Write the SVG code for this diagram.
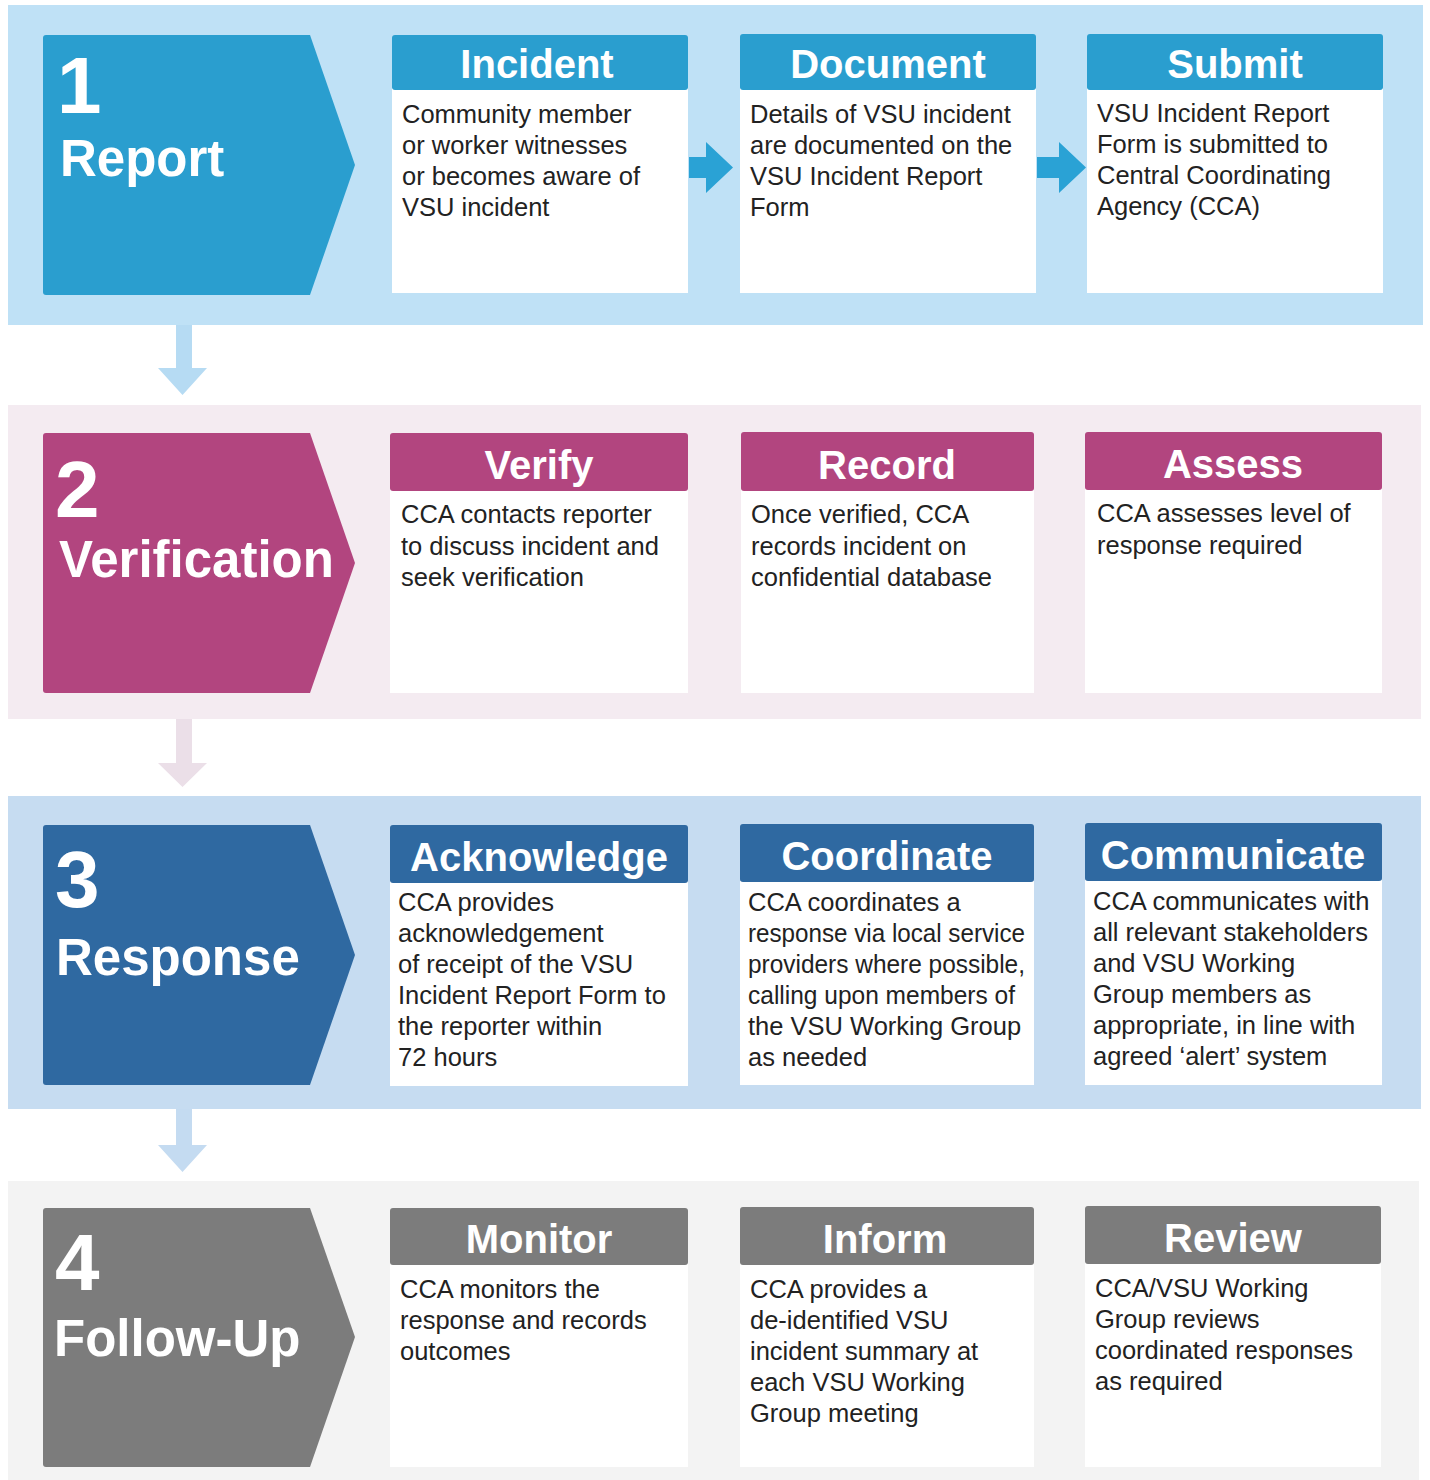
<svg xmlns="http://www.w3.org/2000/svg" width="1430" height="1480" viewBox="0 0 1430 1480">
<style>
.num{font-family:"Liberation Sans",Arial,sans-serif;font-weight:bold;font-size:80px;fill:#fff}
.stage{font-family:"Liberation Sans",Arial,sans-serif;font-weight:bold;font-size:51px;fill:#fff}
.hd{font-family:"Liberation Sans",Arial,sans-serif;font-weight:bold;font-size:40px;fill:#fff;text-anchor:middle}
.bd{font-family:"Liberation Sans",Arial,sans-serif;font-size:25.5px;fill:#222}
.body{fill:#fff}
.c1{fill:#2a9ecf}.c2{fill:#b2457f}.c3{fill:#2f69a1}.c4{fill:#7c7c7c}
</style>
<rect width="1430" height="1480" fill="#fff"/>
<!-- bands -->
<rect x="8" y="5" width="1415" height="320" fill="#bfe1f6"/>
<rect x="8" y="405" width="1413" height="314" fill="#f4ebf1"/>
<rect x="8" y="796" width="1413" height="313" fill="#c6dcf1"/>
<rect x="8" y="1181" width="1411" height="299" fill="#f3f3f3"/>

<g id="connectors">
  <path d="M176,325 H192 V368 H207 L182.5,395 L158,368 H176 Z" fill="#b6dbf3"/>
  <path d="M176,719 H192 V763 H207 L182.5,787 L158,763 H176 Z" fill="#ebdfe8"/>
  <path d="M176,1109 H192 V1145 H207 L182.5,1172 L158,1145 H176 Z" fill="#c4dbf1"/>
  <path d="M689,157 H706 V142 L733,167.5 L706,193 V178 H689 Z" fill="#2aa2d5"/>
  <path d="M1037,157 H1059 V142 L1086,167.5 L1059,193 V178 H1037 Z" fill="#2aa2d5"/>
</g>

<!-- Stage chevrons -->
<g id="stage1">
  <path class="c1" d="M46,35 H310 L355,165 L310,295 H46 Q43,295 43,292 V38 Q43,35 46,35 Z"/>
  <text class="num" x="57" y="113">1</text>
  <text class="stage" x="60" y="176">Report</text>
</g>
<g id="stage2">
  <path class="c2" d="M46,433 H310 L355,563 L310,693 H46 Q43,693 43,690 V436 Q43,433 46,433 Z"/>
  <text class="num" x="55" y="517">2</text>
  <text class="stage" x="59" y="577">Verification</text>
</g>
<g id="stage3">
  <path class="c3" d="M46,825 H310 L355,955 L310,1085 H46 Q43,1085 43,1082 V828 Q43,825 46,825 Z"/>
  <text class="num" x="55" y="907">3</text>
  <text class="stage" x="56" y="975">Response</text>
</g>
<g id="stage4">
  <path class="c4" d="M46,1208 H310 L355,1337 L310,1467 H46 Q43,1467 43,1464 V1211 Q43,1208 46,1208 Z"/>
  <text class="num" x="55" y="1290">4</text>
  <text class="stage" x="54" y="1356">Follow-Up</text>
</g>

<!-- Row 1 -->
<g id="incident">
  <rect class="body" x="392" y="88" width="296" height="205"/>
  <rect class="c1" x="392" y="35" width="296" height="55" rx="3"/>
  <text class="hd" x="537" y="78">Incident</text>
  <text class="bd" x="402" y="123">Community member</text>
  <text class="bd" x="402" y="154">or worker witnesses</text>
  <text class="bd" x="402" y="185">or becomes aware of</text>
  <text class="bd" x="402" y="216">VSU incident</text>
</g>
<g id="document">
  <rect class="body" x="740" y="88" width="296" height="205"/>
  <rect class="c1" x="740" y="34" width="296" height="56" rx="3"/>
  <text class="hd" x="888" y="78">Document</text>
  <text class="bd" x="750" y="123">Details of VSU incident</text>
  <text class="bd" x="750" y="154">are documented on the</text>
  <text class="bd" x="750" y="185">VSU Incident Report</text>
  <text class="bd" x="750" y="216">Form</text>
</g>
<g id="submit">
  <rect class="body" x="1087" y="88" width="296" height="205"/>
  <rect class="c1" x="1087" y="34" width="296" height="56" rx="3"/>
  <text class="hd" x="1235" y="78">Submit</text>
  <text class="bd" x="1097" y="122">VSU Incident Report</text>
  <text class="bd" x="1097" y="153">Form is submitted to</text>
  <text class="bd" x="1097" y="184">Central Coordinating</text>
  <text class="bd" x="1097" y="215">Agency (CCA)</text>
</g>

<!-- Row 2 -->
<g id="verify">
  <rect class="body" x="390" y="489" width="298" height="204"/>
  <rect class="c2" x="390" y="433" width="298" height="58" rx="3"/>
  <text class="hd" x="539" y="479">Verify</text>
  <text class="bd" x="401" y="523">CCA contacts reporter</text>
  <text class="bd" x="401" y="554.5">to discuss incident and</text>
  <text class="bd" x="401" y="586">seek verification</text>
</g>
<g id="record">
  <rect class="body" x="741" y="489" width="293" height="204"/>
  <rect class="c2" x="741" y="432" width="293" height="59" rx="3"/>
  <text class="hd" x="887" y="479">Record</text>
  <text class="bd" x="751" y="523">Once verified, CCA</text>
  <text class="bd" x="751" y="554.5">records incident on</text>
  <text class="bd" x="751" y="586">confidential database</text>
</g>
<g id="assess">
  <rect class="body" x="1085" y="489" width="297" height="204"/>
  <rect class="c2" x="1085" y="432" width="297" height="58" rx="3"/>
  <text class="hd" x="1233" y="478">Assess</text>
  <text class="bd" x="1097" y="522">CCA assesses level of</text>
  <text class="bd" x="1097" y="554">response required</text>
</g>

<!-- Row 3 -->
<g id="acknowledge">
  <rect class="body" x="390" y="881" width="298" height="205"/>
  <rect class="c3" x="390" y="825" width="298" height="58" rx="3"/>
  <text class="hd" x="539" y="871">Acknowledge</text>
  <text class="bd" x="398" y="911">CCA provides</text>
  <text class="bd" x="398" y="942">acknowledgement</text>
  <text class="bd" x="398" y="973">of receipt of the VSU</text>
  <text class="bd" x="398" y="1004">Incident Report Form to</text>
  <text class="bd" x="398" y="1035">the reporter within</text>
  <text class="bd" x="398" y="1066">72 hours</text>
</g>
<g id="coordinate">
  <rect class="body" x="740" y="881" width="294" height="204"/>
  <rect class="c3" x="740" y="824" width="294" height="58" rx="3"/>
  <text class="hd" x="887" y="870">Coordinate</text>
  <text class="bd" x="748" y="911">CCA coordinates a</text>
  <text class="bd" x="748" y="942" textLength="277" lengthAdjust="spacingAndGlyphs">response via local service</text>
  <text class="bd" x="748" y="973" textLength="277" lengthAdjust="spacingAndGlyphs">providers where possible,</text>
  <text class="bd" x="748" y="1004" textLength="267" lengthAdjust="spacingAndGlyphs">calling upon members of</text>
  <text class="bd" x="748" y="1035">the VSU Working Group</text>
  <text class="bd" x="748" y="1066">as needed</text>
</g>
<g id="communicate">
  <rect class="body" x="1085" y="880" width="297" height="205"/>
  <rect class="c3" x="1085" y="823" width="297" height="58" rx="3"/>
  <text class="hd" x="1233" y="869">Communicate</text>
  <text class="bd" x="1093" y="910">CCA communicates with</text>
  <text class="bd" x="1093" y="941">all relevant stakeholders</text>
  <text class="bd" x="1093" y="972">and VSU Working</text>
  <text class="bd" x="1093" y="1003">Group members as</text>
  <text class="bd" x="1093" y="1034">appropriate, in line with</text>
  <text class="bd" x="1093" y="1065">agreed ‘alert’ system</text>
</g>

<!-- Row 4 -->
<g id="monitor">
  <rect class="body" x="390" y="1263" width="298" height="204"/>
  <rect class="c4" x="390" y="1208" width="298" height="57" rx="3"/>
  <text class="hd" x="539" y="1253">Monitor</text>
  <text class="bd" x="400" y="1298">CCA monitors the</text>
  <text class="bd" x="400" y="1329">response and records</text>
  <text class="bd" x="400" y="1360">outcomes</text>
</g>
<g id="inform">
  <rect class="body" x="740" y="1263" width="294" height="204"/>
  <rect class="c4" x="740" y="1207" width="294" height="58" rx="3"/>
  <text class="hd" x="885" y="1253">Inform</text>
  <text class="bd" x="750" y="1298">CCA provides a</text>
  <text class="bd" x="750" y="1329">de-identified VSU</text>
  <text class="bd" x="750" y="1360">incident summary at</text>
  <text class="bd" x="750" y="1391">each VSU Working</text>
  <text class="bd" x="750" y="1422">Group meeting</text>
</g>
<g id="review">
  <rect class="body" x="1085" y="1262" width="296" height="205"/>
  <rect class="c4" x="1085" y="1206" width="296" height="58" rx="3"/>
  <text class="hd" x="1233" y="1252">Review</text>
  <text class="bd" x="1095" y="1297">CCA/VSU Working</text>
  <text class="bd" x="1095" y="1328">Group reviews</text>
  <text class="bd" x="1095" y="1359">coordinated responses</text>
  <text class="bd" x="1095" y="1390">as required</text>
</g>
</svg>
